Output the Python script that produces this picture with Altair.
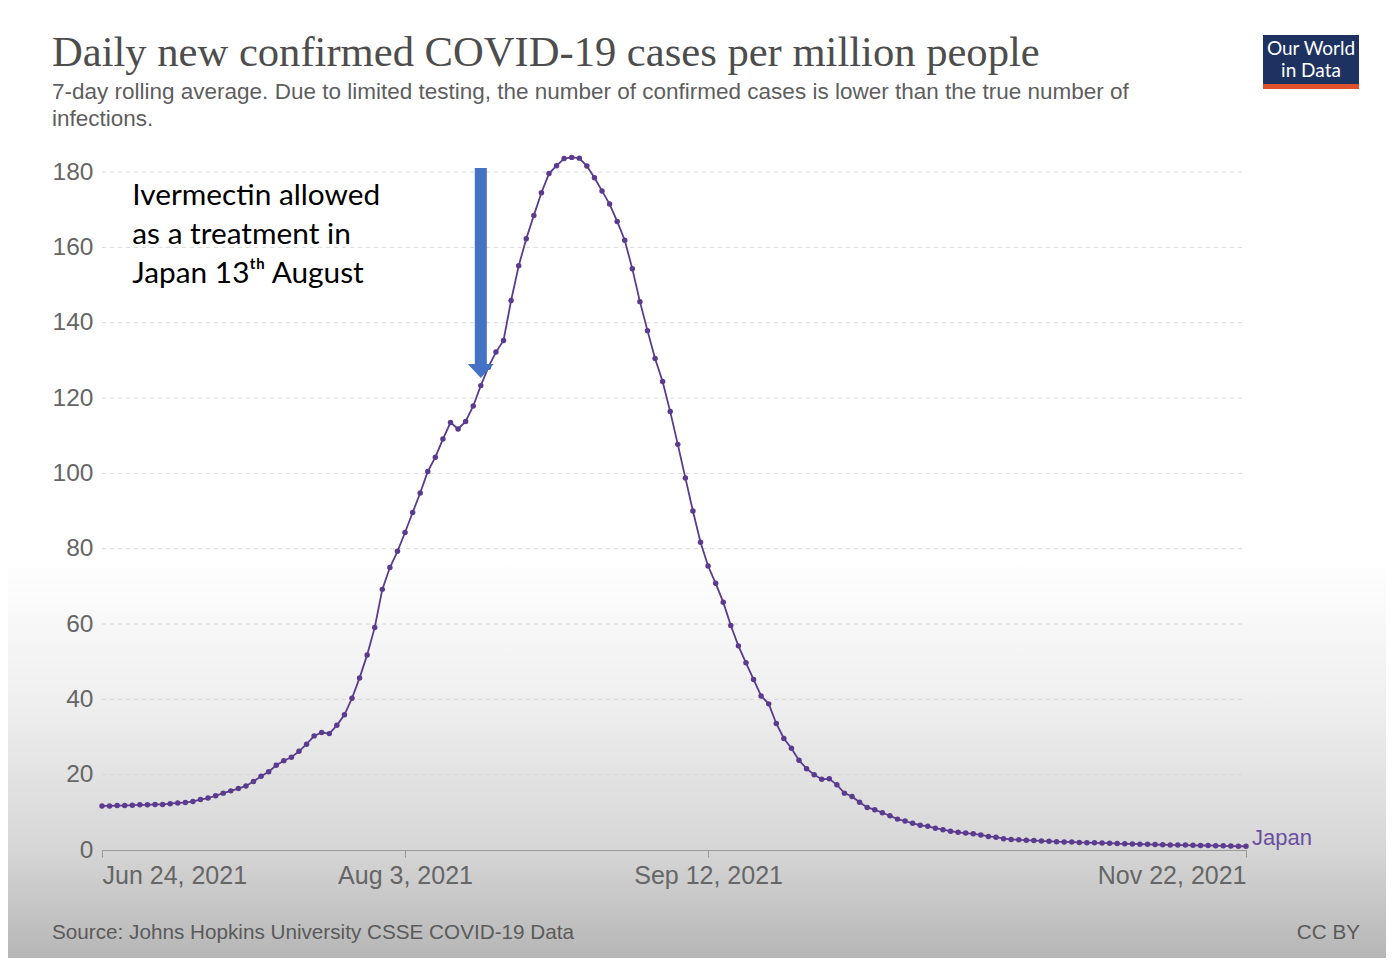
import altair as alt
import pandas as pd

# ---------------- data ----------------
start_date = "2021-06-24"
cases = [
    11.7, 11.7, 11.8, 11.8, 11.9, 12.0, 12.0, 12.1, 12.1, 12.3,
    12.5, 12.6, 12.9, 13.4, 13.8, 14.4, 15.1, 15.7, 16.3, 17.0,
    18.2, 19.6, 20.8, 22.5, 23.7, 24.6, 26.2, 28.1, 30.3, 31.2,
    30.9, 33.1, 35.9, 40.3, 45.7, 51.8, 59.1, 69.2, 75.0, 79.3,
    84.3, 89.6, 94.8, 100.5, 104.3, 109.1, 113.5, 111.8, 113.8, 117.9,
    123.3, 128.2, 132.2, 135.3, 145.9, 155.1, 162.3, 168.5, 174.5, 179.6,
    181.7, 183.6, 183.9, 183.7, 181.6, 178.5, 175.0, 171.5, 166.9, 161.9,
    154.3, 145.6, 137.9, 130.5, 124.4, 116.4, 107.7, 98.8, 90.0, 81.7,
    75.4, 70.8, 65.8, 59.6, 54.2, 49.7, 45.3, 40.9, 38.8, 33.6,
    29.6, 27.0, 23.8, 21.6, 20.0, 18.8, 18.9, 17.3, 15.1, 14.2,
    12.7, 11.3, 10.7, 9.9, 9.1, 8.2, 7.7, 7.1, 6.6, 6.3,
    5.8, 5.4, 5.0, 4.7, 4.5, 4.3, 4.0, 3.6, 3.4, 3.0,
    2.8, 2.7, 2.6, 2.5, 2.4, 2.3, 2.2, 2.15, 2.1, 2.0,
    1.95, 1.9, 1.85, 1.8, 1.7, 1.65, 1.6, 1.55, 1.5, 1.45,
    1.4, 1.35, 1.3, 1.3, 1.25, 1.2, 1.2, 1.15, 1.1, 1.05,
    1.0, 1.0,
]
country = "Japan"
y_ticks = [0, 20, 40, 60, 80, 100, 120, 140, 160, 180]
x_tick_dates = [(2021, 6, 24), (2021, 8, 3), (2021, 9, 12), (2021, 11, 22)]

annotation_date = "2021-08-13"
arrow_top, arrow_head_top, arrow_head_mid = 181.1, 129.0, 127.2
note_date = "2021-06-28"
note_value = 177.6
note_text = "Ivermectin allowed\nas a treatment in\nJapan 13ᵗʰ August"

title = "Daily new confirmed COVID-19 cases per million people"
subtitle = [
    "7-day rolling average. Due to limited testing, the number of confirmed cases is lower than the true number of",
    "infections.",
]
source = "Source: Johns Hopkins University CSSE COVID-19 Data"
license_txt = "CC BY"

# ---------------- frames ----------------
dates = pd.date_range(start_date, periods=len(cases), freq="D")
df = pd.DataFrame({"date": dates.strftime("%Y-%m-%dT00:00:00"), "cases": cases})
last = df.tail(1).assign(label=country)
grid_df = pd.DataFrame({"v": y_ticks})
arrow_df = pd.DataFrame({"date": [annotation_date + "T00:00:00"], "top": [arrow_top],
                         "bot": [arrow_head_top], "mid": [arrow_head_mid]})
note_df = pd.DataFrame({"date": [note_date + "T00:00:00"], "v": [note_value], "t": [note_text]})
one = pd.DataFrame({"a": [0]})

W, H = 1144, 693
PAD = {"left": 94, "top": 149, "right": 140, "bottom": 108}
purple = "#5b3b8e"
arrow_blue = "#4472C4"
FONT = "Liberation Sans"

x_dt = [alt.DateTime(year=y, month=m, date=d) for (y, m, d) in x_tick_dates]
xscale = alt.Scale(domain=[x_dt[0], x_dt[-1]], nice=False)
yscale = alt.Scale(domain=[0, 184], nice=False, zero=True)
xaxis = alt.Axis(values=x_dt, format="%b %-d, %Y", labelFlush=True, labelFont=FONT,
                 labelFontSize=25, labelColor="#666666", labelPadding=6, tickSize=7,
                 tickColor="#999999", domainColor="#999999", grid=False, title=None,
                 zindex=1)
yaxis = alt.Axis(values=y_ticks, grid=False, domain=False, ticks=False, labelPadding=9,
                 labelFont=FONT, labelFontSize=24.5, labelColor="#666666", title=None,
                 zindex=1)


def X(field="date"):
    return alt.X(f"{field}:T", scale=xscale, axis=xaxis)


def Y(field):
    return alt.Y(f"{field}:Q", scale=yscale, axis=yaxis)


bg = alt.Chart(one).mark_rect(
    fill=alt.Gradient(
        gradient="linear", x1=0, x2=0, y1=0, y2=1,
        stops=[
            alt.GradientStop(offset=0, color="#ffffff"),
            alt.GradientStop(offset=0.58, color="#ffffff"),
            alt.GradientStop(offset=0.73, color="#efefef"),
            alt.GradientStop(offset=0.886, color="#d6d6d6"),
            alt.GradientStop(offset=1, color="#b6b6b6"),
        ],
    )
).encode(x=alt.value(-PAD["left"]), x2=alt.value(W + PAD["right"]),
         y=alt.value(-PAD["top"]), y2=alt.value(H + PAD["bottom"]))

grid = alt.Chart(grid_df).mark_rule(color="#d9d9d9", strokeDash=[4, 4], strokeWidth=1).encode(
    y=Y("v"), x=alt.value(0), x2=alt.value(W))

line = alt.Chart(df).mark_line(color=purple, strokeWidth=1.8).encode(x=X(), y=Y("cases"))
pts = alt.Chart(df).mark_circle(color=purple, size=30, opacity=1).encode(x=X(), y=Y("cases"))
lab = alt.Chart(last).mark_text(align="left", baseline="middle", dx=6, dy=-8, font=FONT,
                                fontSize=22, color="#6b4fa0").encode(
    x=X(), y=Y("cases"), text="label:N")

shaft = alt.Chart(arrow_df).mark_rule(color=arrow_blue, strokeWidth=12).encode(
    x=X(), y=Y("top"), y2="bot:Q")
head = alt.Chart(arrow_df).mark_point(
    shape="M -1 -0.54 L 1 -0.54 L 0 0.54 Z", filled=True, size=676, opacity=1,
    color=arrow_blue).encode(x=X(), y=Y("mid"))

note = alt.Chart(note_df).mark_text(align="left", baseline="top", font="Lato", fontSize=29.8,
                                    lineHeight=39, lineBreak="\n", color="#000000").encode(
    x=X(), y=Y("v"), text="t:N")

# title block and footer as text marks (pixel positions relative to plot origin)
title_t = alt.Chart(one).mark_text(text=title, font="Liberation Serif", fontSize=42.6,
                                   color="#4d4d4d", align="left", baseline="alphabetic").encode(
    x=alt.value(-50), y=alt.value(-91))
sub1 = alt.Chart(one).mark_text(text=subtitle[0], font=FONT, fontSize=22.5, color="#5e5e5e",
                                align="left", baseline="alphabetic").encode(
    x=alt.value(-50), y=alt.value(-58))
sub2 = alt.Chart(one).mark_text(text=subtitle[1], font=FONT, fontSize=22.5, color="#5e5e5e",
                                align="left", baseline="alphabetic").encode(
    x=alt.value(-50), y=alt.value(-31))

logo_box = alt.Chart(one).mark_rect(color="#1d3260").encode(
    x=alt.value(1161), x2=alt.value(1257), y=alt.value(-122), y2=alt.value(-73))
logo_bar = alt.Chart(one).mark_rect(color="#de4f2b").encode(
    x=alt.value(1161), x2=alt.value(1257), y=alt.value(-73), y2=alt.value(-68))
logo_t1 = alt.Chart(one).mark_text(text="Our World", font="Lato", fontSize=19, color="white",
                                   align="center", baseline="middle").encode(
    x=alt.value(1209), y=alt.value(-108))
logo_t2 = alt.Chart(one).mark_text(text="in Data", font="Lato", fontSize=19, color="white",
                                   align="center", baseline="middle").encode(
    x=alt.value(1209), y=alt.value(-86))

src = alt.Chart(one).mark_text(text=source, font=FONT, fontSize=20.7, color="#5a5a5a",
                               align="left", baseline="middle").encode(
    x=alt.value(-50), y=alt.value(776))
lic = alt.Chart(one).mark_text(text=license_txt, font=FONT, fontSize=20.7, color="#5a5a5a",
                               align="right", baseline="middle").encode(
    x=alt.value(1258), y=alt.value(776))

chart = alt.layer(
    bg, grid, line, pts, lab, shaft, head, note, title_t, sub1, sub2,
    logo_box, logo_bar, logo_t1, logo_t2, src, lic
).properties(
    width=W, height=H,
    padding=PAD,
    autosize=alt.AutoSizeParams(type="none"),
).configure_view(stroke=None).configure(background="white")

chart.save("out.html", embed_options={"renderer": "svg", "actions": False})
